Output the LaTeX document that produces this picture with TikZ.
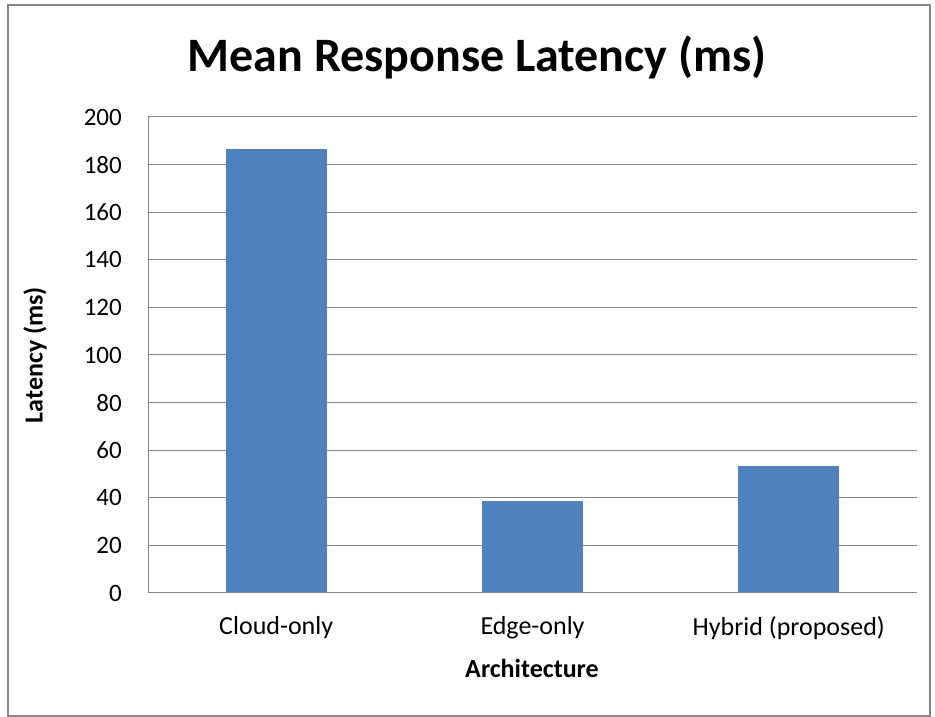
\documentclass[tikz,border=0pt]{standalone}
\usepackage{fontspec}
\setmainfont{Carlito}
\definecolor{barblue}{HTML}{4F81BD}
\definecolor{gridgray}{HTML}{868686}

\tikzset{
    ticklabel/.style={anchor=east, inner sep=0pt, font=\fontsize{25}{30}\selectfont},
    catlabel/.style={inner sep=0pt, font=\fontsize{26}{31}\selectfont},
    axistitle/.style={inner sep=0pt, font=\fontsize{26}{31}\selectfont\bfseries},
    bar/.style={fill=barblue, draw=none}
}

\begin{document}
\begin{tikzpicture}[x=1pt, y=1pt]
        \useasboundingbox (0,0) rectangle (935,717);
        \draw[gridgray, line width=1.2pt] (8,1) rectangle (930,712);
        \node[inner sep=0pt, font=\fontsize{48}{56}\selectfont\bfseries] (title) at (477,660) {Mean Response Latency (ms)};
        \begin{scope}[shift={(148,124)}, y=2.38pt]
            \foreach \y in {20,40,...,200} {
                \draw[gridgray, line width=1pt] (0,\y) -- (769,\y);
            }
            \foreach \y in {0,20,...,200} {
                \node[ticklabel] (tick\y) at (-26,\y) {\y};
            }
            \foreach \x/\v/\name/\lbl in {128.2/186.6/cloud/Cloud-only, 384.5/38.7/edge/Edge-only, 640.8/53.5/hybrid/Hybrid (proposed)} {
                \fill[bar] (\x-50.5,0) rectangle (\x+50.5,\v);
                \node[catlabel] (cat\name) at (\x,-14.7) {\lbl};
            }
            \draw[gridgray, line width=1pt] (0,200) -- (0,0) -- (769,0);
        \end{scope}
        \node[axistitle] (xtitle) at (532,49) {Architecture};
        \node[axistitle, rotate=90] (ytitle) at (35,362) {Latency (ms)};
    \end{tikzpicture}
\end{document}
